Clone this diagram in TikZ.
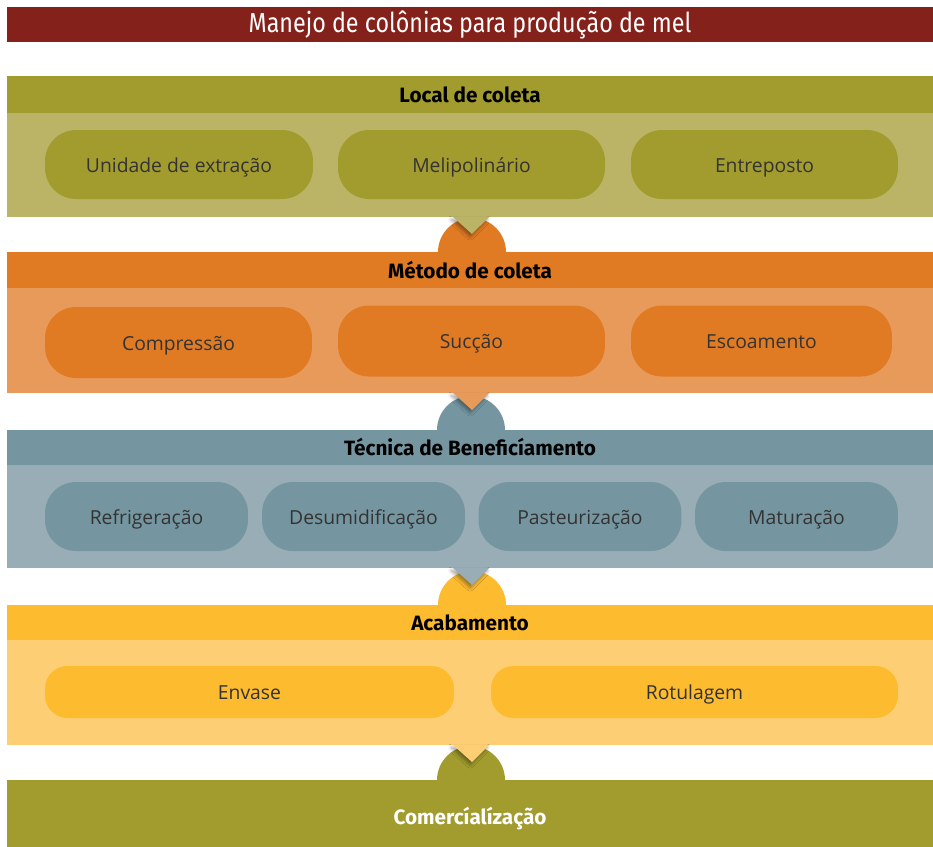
\documentclass[tikz,border=0pt]{standalone}
\usepackage{fontspec}
\setmainfont{Open Sans}
\newfontfamily\headfont{Fira Sans}
\newfontfamily\titlefont[FakeStretch=0.85]{Fira Sans}
\usetikzlibrary{shadows.blur}
\definecolor{titlered}{RGB}{133,33,27}
\definecolor{olivedark}{RGB}{162,156,46}
\definecolor{olivelight}{RGB}{187,180,102}
\definecolor{orangedark}{RGB}{224,123,36}
\definecolor{orangelight}{RGB}{232,154,91}
\definecolor{slatedark}{RGB}{117,150,160}
\definecolor{slatelight}{RGB}{152,173,181}
\definecolor{golddark}{RGB}{253,187,48}
\definecolor{goldlight}{RGB}{254,206,116}
\begin{document}
\begin{tikzpicture}[x=0.02cm, y=-0.02cm,
  band/.style={minimum width=18.52cm, inner sep=0pt, outer sep=0pt,
    font=\headfont\bfseries\fontsize{11.8}{14}\selectfont},
  pill/.style={rounded corners=0.62cm, inner sep=0pt, minimum height=1.38cm,
    text height=1.6ex, text depth=0pt, font=\fontsize{11}{13}\selectfont, text=black!80},
  tipshadow/.style={blur shadow={shadow xshift=-1pt, shadow yshift=-1.5pt,
    shadow blur radius=2pt, shadow opacity=40}}]
  \useasboundingbox (0,0) rectangle (933,846);
  % title
  \node[band, fill=titlered, minimum height=0.7cm, text=white,
    font=\titlefont\fontsize{15.6}{18}\selectfont] (title) at (470,24.5)
    {Manejo de colônias para produção de mel};
  % half discs behind the bands
  \fill[orangedark] (472,252) circle[radius=0.68cm];
  \fill[slatedark] (471,430) circle[radius=0.68cm];
  \fill[golddark] (472,605) circle[radius=0.68cm];
  \fill[olivedark] (471,780) circle[radius=0.68cm];
  % local de coleta
  \node[band, fill=olivedark, minimum height=0.74cm] (local) at (470,94.5) {Local de coleta};
  \node[band, fill=olivelight, minimum height=2.08cm] (localbody) at (470,165) {};
  \node[pill, fill=olivedark, minimum width=5.36cm] (unidade) at (179,164.5) {Unidade de extração};
  \node[pill, fill=olivedark, minimum width=5.34cm] (melipo) at (471.5,164.5) {Melipolinário};
  \node[pill, fill=olivedark, minimum width=5.34cm] (entreposto) at (764.5,164.5) {Entreposto};
  % metodo de coleta
  \node[band, fill=orangedark, minimum height=0.72cm] (metodo) at (470,270) {Método de coleta};
  \node[band, fill=orangelight, minimum height=2.1cm] (metodobody) at (470,340.5) {};
  \node[pill, fill=orangedark, minimum width=5.34cm, minimum height=1.42cm] (compressao) at (178.5,342.5) {Compressão};
  \node[pill, fill=orangedark, minimum width=5.34cm, minimum height=1.42cm] (succao) at (471.5,341) {Sucção};
  \node[pill, fill=orangedark, minimum width=5.22cm, minimum height=1.42cm] (escoamento) at (761.5,341) {Escoamento};
  % tecnica de beneficiamento
  \node[band, fill=slatedark, minimum height=0.7cm] (tecnica) at (470,447.5) {Técnica de Beneficíamento};
  \node[band, fill=slatelight, minimum height=2.06cm] (tecnicabody) at (470,516.5) {};
  \node[pill, fill=slatedark, minimum width=4.06cm] (refrig) at (146.5,516.5) {Refrigeração};
  \node[pill, fill=slatedark, minimum width=4.06cm] (desumid) at (363.5,516.5) {Desumidificação};
  \node[pill, fill=slatedark, minimum width=4.06cm] (pasteur) at (580,516.5) {Pasteurização};
  \node[pill, fill=slatedark, minimum width=4.06cm] (matur) at (796.5,516.5) {Maturação};
  % acabamento
  \node[band, fill=golddark, minimum height=0.7cm] (acabamento) at (470,622.5) {Acabamento};
  \node[band, fill=goldlight, minimum height=2.1cm] (acabbody) at (470,692.5) {};
  \node[pill, fill=golddark, minimum width=8.18cm, minimum height=1.04cm, rounded corners=0.45cm] (envase) at (249.5,692) {Envase};
  \node[pill, fill=golddark, minimum width=8.14cm, minimum height=1.04cm, rounded corners=0.45cm] (rotulagem) at (694.5,692) {Rotulagem};
  % comercializacao
  \node[band, fill=olivedark, minimum height=1.56cm, text=white] (comerc) at (470,819) {Comercíalízação};
  % pointers
  \foreach \body/\col in {localbody/olivelight, metodobody/orangelight,
                          tecnicabody/slatelight, acabbody/goldlight}
    \fill[\col, tipshadow] ([xshift=-0.34cm]\body.south) -- ([xshift=0.38cm]\body.south)
      -- ([xshift=0.04cm, yshift=-0.34cm]\body.south) -- cycle;
\end{tikzpicture}
\end{document}
